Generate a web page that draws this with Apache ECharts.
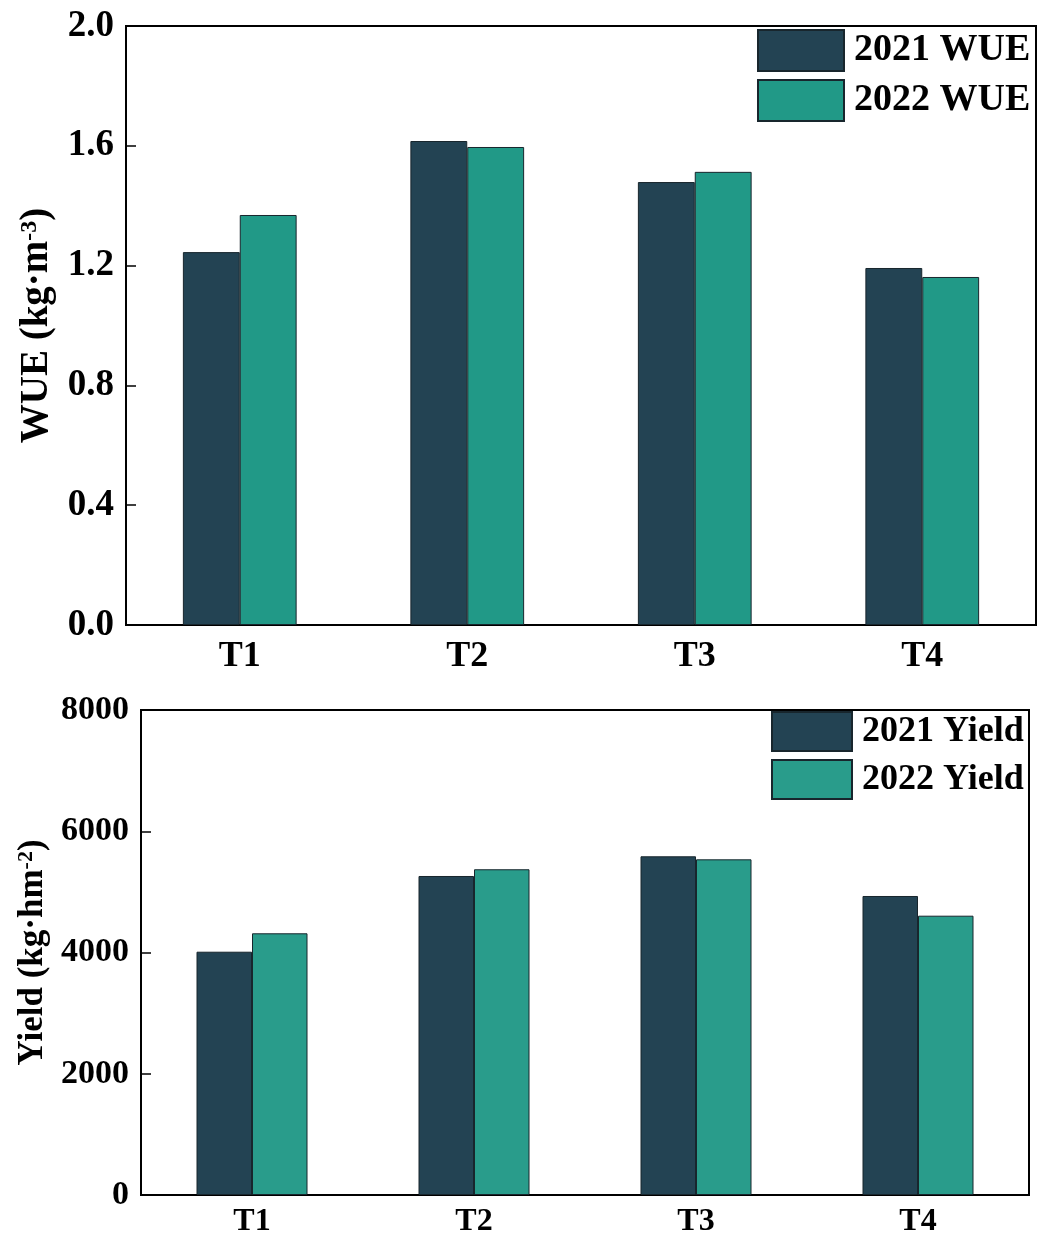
<!DOCTYPE html>
<html>
<head>
<meta charset="utf-8">
<script src="https://cdn.jsdelivr.net/npm/echarts@6/dist/echarts.min.js"></script>
<style>
  html, body { margin: 0; padding: 0; background: #fff; }
  #chart { width: 1047px; height: 1239px; }
</style>
</head>
<body>
<div id="chart"></div>
<script>
// Treatments on the x axis
const treatments = ['T1', 'T2', 'T3', 'T4'];

// Water use efficiency, kg·m-3
const wue2021 = [1.245, 1.616, 1.479, 1.192];
const wue2022 = [1.369, 1.596, 1.513, 1.162];

// Grain yield, kg·hm-2
const yield2021 = [4013, 5262, 5587, 4932];
const yield2022 = [4317, 5373, 5537, 4607];

const FONT = 'Liberation Serif';
const DARK = '#234353';
const TEAL_A = '#219987';
const TEAL_B = '#299c8b';
const EDGE = '#18262d';

function valueAxis(gridIndex, min, max, interval, fmt, nameRich, nameGap, nameSize, labelSize) {
  return {
    type: 'value', gridIndex, min, max, interval,
    nameLocation: 'middle', nameRotate: 90, nameGap,
    name: nameRich,
    nameTextStyle: {
      rich: {
        a: { fontFamily: FONT, fontWeight: 'bold', fontSize: nameSize, color: '#000' },
        s: { fontFamily: FONT, fontWeight: 'bold', fontSize: Math.round(nameSize * 0.62), color: '#000', verticalAlign: 'top' }
      }
    },
    axisLine: { show: true, lineStyle: { color: '#000', width: 2 } },
    axisTick: { show: true, inside: true, length: 10, lineStyle: { color: '#000', width: 1.5 } },
    axisLabel: { fontFamily: FONT, fontWeight: 'bold', fontSize: labelSize, color: '#000', margin: 12, formatter: fmt },
    splitLine: { show: false }
  };
}

function catAxis(gridIndex, size, margin) {
  return {
    type: 'category', gridIndex, data: treatments,
    axisLine: { show: true, lineStyle: { color: '#000', width: 2 } },
    axisTick: { show: false },
    axisLabel: { fontFamily: FONT, fontWeight: 'bold', fontSize: size, color: '#000', margin }
  };
}

function bar(name, data, color, xi, yi) {
  return {
    type: 'bar', name, data, xAxisIndex: xi, yAxisIndex: yi,
    barGap: '0%', barCategoryGap: '50%',
    itemStyle: { color, borderColor: EDGE, borderWidth: 1 },
    emphasis: { disabled: true }
  };
}

const chart = echarts.init(document.getElementById('chart'), null, { renderer: 'canvas' });
chart.setOption({
  animation: false,
  backgroundColor: '#fff',
  grid: [
    { left: 126, top: 26, right: 11, bottom: 614, show: true, borderColor: '#000', borderWidth: 2, backgroundColor: 'transparent' },
    { left: 141, top: 710, right: 18, bottom: 44, show: true, borderColor: '#000', borderWidth: 2, backgroundColor: 'transparent' }
  ],
  legend: [
    {
      data: ['2021 WUE', '2022 WUE'], orient: 'vertical', left: 757, top: 29,
      itemWidth: 86, itemHeight: 41, itemGap: 7, padding: 0,
      textStyle: { fontFamily: FONT, fontWeight: 'bold', fontSize: 38, lineHeight: 36, color: '#000', padding: [0, 0, 0, 5] },
      icon: 'rect'
    },
    {
      data: ['2021 Yield', '2022 Yield'], orient: 'vertical', left: 771, top: 711,
      itemWidth: 80, itemHeight: 39, itemGap: 7, padding: 0,
      textStyle: { fontFamily: FONT, fontWeight: 'bold', fontSize: 36, lineHeight: 34, color: '#000', padding: [0, 0, 0, 5] },
      icon: 'rect'
    }
  ],
  xAxis: [catAxis(0, 36, 14), catAxis(1, 32, 11)],
  yAxis: [
    valueAxis(0, 0, 2.0, 0.4, v => v.toFixed(1), '{a|WUE (kg·m}{s|-3}{a|)}', 66, 39, 37),
    valueAxis(1, 0, 8000, 2000, v => String(v), '{a|Yield (kg·hm}{s|-2}{a|)}', 91, 35, 34)
  ],
  series: [
    bar('2021 WUE', wue2021, DARK, 0, 0),
    bar('2022 WUE', wue2022, TEAL_A, 0, 0),
    bar('2021 Yield', yield2021, DARK, 1, 1),
    bar('2022 Yield', yield2022, TEAL_B, 1, 1)
  ]
});
</script>
</body>
</html>
